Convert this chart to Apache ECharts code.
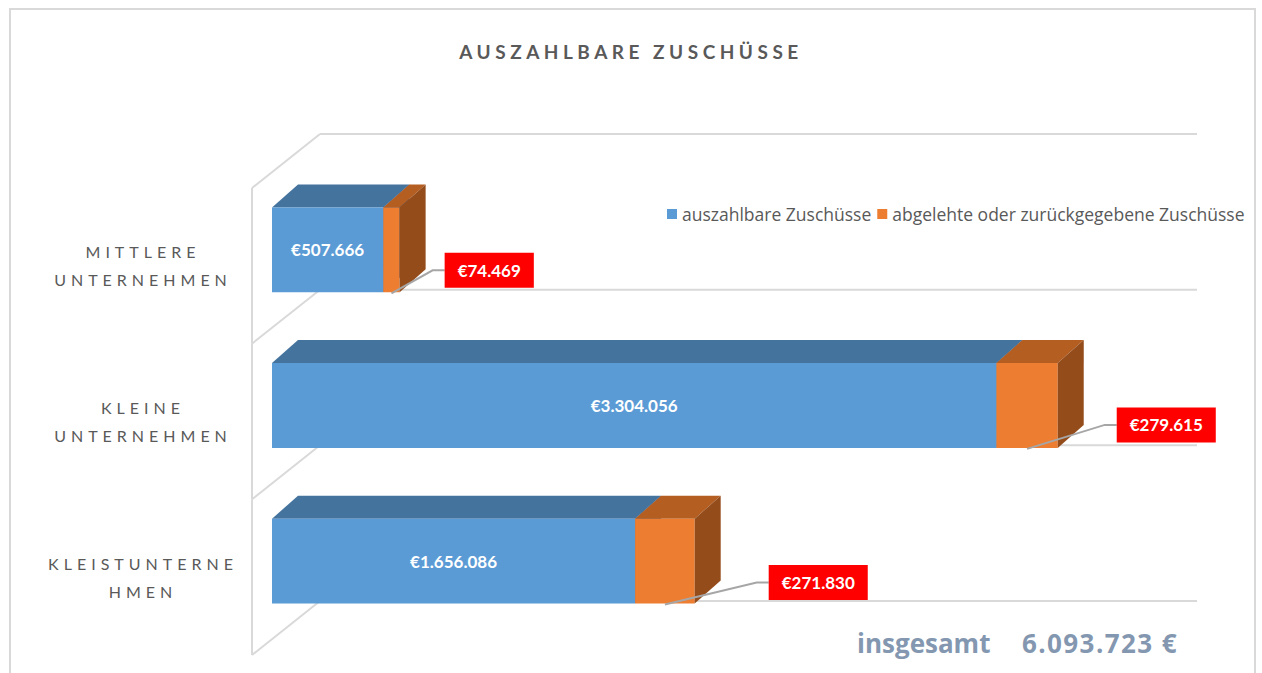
<!DOCTYPE html>
<html>
<head>
<meta charset="utf-8">
<title>Auszahlbare Zuschüsse</title>
<script src="https://cdn.jsdelivr.net/npm/echarts@6/dist/echarts.min.js"></script>
<style>
html, body { margin:0; padding:0; background:#fff; }
#chart { width:1262px; height:673px; }
</style>
</head>
<body>
<div id="chart"></div>
<script>
const categories = ['MITTLERE\nUNTERNEHMEN', 'KLEINE\nUNTERNEHMEN', 'KLEISTUNTERNE\nHMEN']
const payable = [507666, 3304056, 1656086]
const rejected = [74469, 279615, 271830]
const seriesNames = ['auszahlbare Zuschüsse', 'abgelehte oder zurückgegebene Zuschüsse']
const valueMax = 4000000
const titleText = 'AUSZAHLBARE ZUSCHÜSSE'
const totalCaption = 'insgesamt'
const totalText = '6.093.723 €'

// fake 3D look (pixel offsets for depth)
const WALL = [68, -54]
const BAR_FRONT = [20, -16]
const BAR_DEPTH = [26, -23]
const BAR_RATIO = 0.545
const calloutDx = [45, 59, 74]
const calloutDy = [-22, -23, -21]

const FONT = 'Lato'
const GRID_COLOR = '#d9d9d9'
const fmt = v => '€' + String(Math.round(v)).replace(/\B(?=(\d{3})+(?!\d))/g, '.')

const chart = echarts.init(document.getElementById('chart'), null, { renderer: 'svg' })

const line = (x1, y1, x2, y2) => ({
  type: 'line', shape: { x1, y1, x2, y2 }, style: { stroke: GRID_COLOR, lineWidth: 2 }
})

const renderWall = (params, api) => {
  const i = api.value(1)
  const band = api.size([0, 1])[1]
  const c = api.coord([0, i])
  const xEnd = api.coord([valueMax, i])[0]
  const x0 = c[0], yTop = c[1] - band / 2, yBot = c[1] + band / 2
  const children = [
    line(x0, yTop, x0, yBot),
    line(x0, yBot, x0 + WALL[0], yBot + WALL[1]),
    line(x0 + WALL[0], yBot + WALL[1], xEnd + WALL[0], yBot + WALL[1])
  ]
  if (i === 0) {
    children.push(line(x0, yTop, x0 + WALL[0], yTop + WALL[1]))
    children.push(line(x0 + WALL[0], yTop + WALL[1], xEnd + WALL[0], yTop + WALL[1]))
  }
  return { type: 'group', children }
}

const barGeom = api => {
  const s = api.value(0), e = api.value(1), i = api.value(2)
  const band = api.size([0, 1])[1]
  const p0 = api.coord([s, i]), p1 = api.coord([e, i])
  const h = band * BAR_RATIO
  return {
    i, value: e - s,
    x0: p0[0] + BAR_FRONT[0], x1: p1[0] + BAR_FRONT[0],
    yTop: p0[1] - h / 2 + BAR_FRONT[1], yBot: p0[1] + h / 2 + BAR_FRONT[1]
  }
}

const box = (g, front, top, side) => {
  const [dx, dy] = BAR_DEPTH
  const { x0, x1, yTop, yBot } = g
  return [
    { type: 'polygon', shape: { points: [[x0, yTop], [x0 + dx, yTop + dy], [x1 + dx, yTop + dy], [x1, yTop]] }, style: { fill: top } },
    { type: 'rect', shape: { x: x0, y: yTop, width: x1 - x0, height: yBot - yTop }, style: { fill: front } },
    { type: 'polygon', shape: { points: [[x1, yTop], [x1 + dx, yTop + dy], [x1 + dx, yBot + dy], [x1, yBot]] }, style: { fill: side } }
  ]
}

const renderPayable = (params, api) => {
  const g = barGeom(api)
  const children = box(g, '#5b9bd5', '#44739e', '#3f6a93')
  children.push({
    type: 'text',
    style: {
      x: (g.x0 + g.x1) / 2, y: (g.yTop + g.yBot) / 2,
      text: fmt(g.value), fill: '#fff', font: 'bold 17px ' + FONT,
      align: 'center', verticalAlign: 'middle'
    }
  })
  return { type: 'group', children }
}

const renderRejected = (params, api) => {
  const g = barGeom(api)
  const children = box(g, '#ed7d31', '#b55e22', '#944c1b')
  const boxLeft = g.x1 + calloutDx[g.i]
  const cy = g.yBot + calloutDy[g.i]
  children.push({
    type: 'polyline',
    shape: { points: [[(g.x0 + g.x1) / 2, g.yBot + 1], [boxLeft - 12, cy], [boxLeft, cy]] },
    style: { stroke: '#a6a6a6', lineWidth: 2, fill: 'none' }
  })
  children.push({
    type: 'text',
    style: {
      x: boxLeft, y: cy,
      text: fmt(g.value), fill: '#fff', font: 'bold 17px ' + FONT,
      align: 'left', verticalAlign: 'middle',
      backgroundColor: '#ff0000', padding: [9, 13]
    }
  })
  return { type: 'group', children }
}

chart.setOption({
  animation: false,
  backgroundColor: '#fff',
  textStyle: { fontFamily: FONT },
  title: {
    text: titleText,
    left: 'center',
    top: 37,
    textStyle: { fontSize: 19, fontWeight: 'bold', color: '#595959', fontFamily: FONT }
  },
  legend: {
    left: 667,
    top: 205,
    padding: 0,
    itemWidth: 10,
    itemHeight: 10,
    itemGap: 6,
    icon: 'rect',
    data: seriesNames,
    textStyle: { fontSize: 17.5, color: '#595959', fontFamily: 'Open Sans' }
  },
  grid: { left: 252, right: 133, top: 188, bottom: 18 },
  xAxis: {
    type: 'value', min: 0, max: valueMax,
    axisLine: { show: false }, axisTick: { show: false },
    axisLabel: { show: false }, splitLine: { show: false }
  },
  yAxis: {
    type: 'category',
    inverse: true,
    data: categories,
    axisLine: { show: false },
    axisTick: { show: false },
    splitLine: { show: false },
    axisLabel: {
      align: 'center',
      margin: 109,
      fontSize: 16,
      lineHeight: 28,
      color: '#595959',
      fontFamily: FONT
    }
  },
  graphic: [
    {
      type: 'rect', silent: true, z: 100,
      shape: { x: 10, y: 9, width: 1245, height: 700 },
      style: { fill: 'none', stroke: '#d9d9d9', lineWidth: 2 }
    },
    {
      type: 'text', x: 857, y: 643,
      style: { text: totalCaption, font: 'bold 26px "Open Sans"', fill: '#8497b0', verticalAlign: 'middle' }
    },
    {
      type: 'text', x: 1022, y: 643,
      style: { text: totalText, font: 'bold 26px "Open Sans"', fill: '#8497b0', verticalAlign: 'middle' }
    }
  ],
  series: [
    {
      type: 'custom',
      name: 'wall',
      silent: true,
      z: 1,
      renderItem: renderWall,
      encode: { x: 0, y: 1 },
      data: categories.map((c, i) => [0, i])
    },
    {
      type: 'custom',
      name: seriesNames[0],
      z: 2,
      itemStyle: { color: '#5b9bd5' },
      renderItem: renderPayable,
      encode: { x: [0, 1], y: 2 },
      data: payable.map((v, i) => [0, v, i])
    },
    {
      type: 'custom',
      name: seriesNames[1],
      z: 3,
      itemStyle: { color: '#ed7d31' },
      renderItem: renderRejected,
      encode: { x: [0, 1], y: 2 },
      data: rejected.map((v, i) => [payable[i], payable[i] + v, i])
    }
  ]
})

// letter spacing for a few svg texts (title, category labels, total)
const labelLines = new Set(categories.join('\n').split('\n'))
const applySpacing = () => {
  chart.getDom().querySelectorAll('text').forEach(t => {
    const s = t.textContent
    if (s === titleText) t.style.letterSpacing = '4.5px'
    else if (labelLines.has(s)) t.style.letterSpacing = '5px'
    else if (s === totalText) t.style.letterSpacing = '1.4px'
  })
}
chart.on('finished', applySpacing)
applySpacing()
</script>
</body>
</html>
